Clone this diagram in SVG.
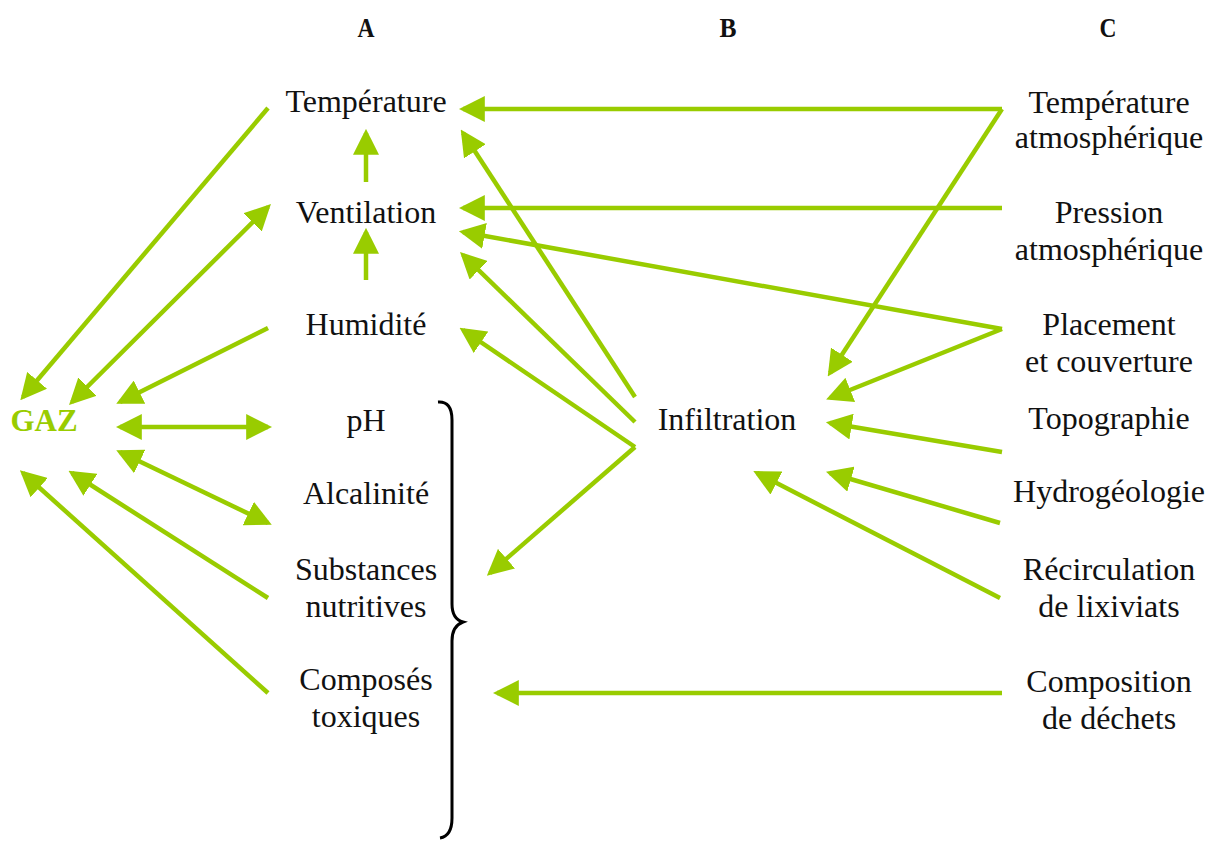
<svg xmlns="http://www.w3.org/2000/svg" width="1215" height="841" viewBox="0 0 1215 841">
<style>
.t{font-family:"Liberation Serif",serif;font-size:32px;fill:#111;text-anchor:middle}
.h{font-family:"Liberation Serif",serif;font-size:28px;font-weight:bold;fill:#111;text-anchor:middle}
.gaz{font-family:"Liberation Serif",serif;font-size:31px;font-weight:bold;fill:#99CC00;text-anchor:middle}
.c line{stroke:#99CC00;stroke-width:4.5;fill:none}
.a{marker-end:url(#ah)}
.d{marker-start:url(#ah);marker-end:url(#ah)}
</style>
<defs>
<marker id="ah" markerUnits="userSpaceOnUse" markerWidth="26" markerHeight="26" refX="21" refY="12.5" orient="auto-start-reverse" viewBox="0 0 25 25">
<path d="M0,0 L25,12.5 L0,25 z" fill="#99CC00"/>
</marker>
</defs>
<rect width="1215" height="841" fill="#fff"/>
<g id="headers">
<text class="h" x="366" y="37" textLength="17" lengthAdjust="spacingAndGlyphs">A</text>
<text class="h" x="728" y="37" textLength="17" lengthAdjust="spacingAndGlyphs">B</text>
<text class="h" x="1108" y="37" textLength="17" lengthAdjust="spacingAndGlyphs">C</text>
</g>
<g id="gaz"><text class="gaz" x="44" y="431">GAZ</text></g>
<g id="temperature"><text class="t" x="366" y="112">Température</text></g>
<g id="ventilation"><text class="t" x="366" y="223">Ventilation</text></g>
<g id="humidite"><text class="t" x="366" y="335">Humidité</text></g>
<g id="ph"><text class="t" x="366" y="431">pH</text></g>
<g id="alcalinite"><text class="t" x="366" y="504">Alcalinité</text></g>
<g id="substances"><text class="t" x="366" y="580">Substances</text><text class="t" x="366" y="617">nutritives</text></g>
<g id="composes"><text class="t" x="366" y="690">Composés</text><text class="t" x="366" y="727">toxiques</text></g>
<g id="infiltration"><text class="t" x="727" y="430">Infiltration</text></g>
<g id="temp-atm"><text class="t" x="1109" y="113">Température</text><text class="t" x="1109" y="148">atmosphérique</text></g>
<g id="pression"><text class="t" x="1109" y="223">Pression</text><text class="t" x="1109" y="260">atmosphérique</text></g>
<g id="placement"><text class="t" x="1109" y="335">Placement</text><text class="t" x="1109" y="372">et couverture</text></g>
<g id="topographie"><text class="t" x="1109" y="429">Topographie</text></g>
<g id="hydrogeologie"><text class="t" x="1109" y="502">Hydrogéologie</text></g>
<g id="recirculation"><text class="t" x="1109" y="580">Récirculation</text><text class="t" x="1109" y="617">de lixiviats</text></g>
<g id="composition"><text class="t" x="1109" y="692">Composition</text><text class="t" x="1109" y="729">de déchets</text></g>
<g id="brace"><path d="M438,402 Q452,401 452,420 L452,604 Q452,619 463,622 Q452,626 452,641 L452,818 Q452,836 440,838" fill="none" stroke="#000" stroke-width="3"/></g>
<g id="connectors" class="c">
<line class="a" x1="268" y1="108" x2="23" y2="397"/>
<line class="d" x1="72" y1="402" x2="268" y2="207"/>
<line class="a" x1="268" y1="328" x2="120" y2="402"/>
<line class="d" x1="120" y1="427" x2="268" y2="427"/>
<line class="d" x1="120" y1="452" x2="268" y2="523"/>
<line class="a" x1="268" y1="598" x2="72" y2="473"/>
<line class="a" x1="268" y1="693" x2="23" y2="473"/>
<line class="a" x1="366" y1="182" x2="366" y2="133"/>
<line class="a" x1="366" y1="280" x2="366" y2="232"/>
<line class="a" x1="635" y1="397" x2="463" y2="133"/>
<line class="a" x1="635" y1="422" x2="463" y2="255"/>
<line class="a" x1="635" y1="447" x2="463" y2="330"/>
<line class="a" x1="635" y1="447" x2="490" y2="573"/>
<line class="a" x1="1002" y1="109" x2="463" y2="109"/>
<line class="a" x1="1002" y1="109" x2="830" y2="373"/>
<line class="a" x1="1002" y1="208" x2="463" y2="208"/>
<line class="a" x1="1002" y1="329" x2="463" y2="232"/>
<line class="a" x1="1002" y1="329" x2="830" y2="398"/>
<line class="a" x1="1002" y1="452" x2="830" y2="423"/>
<line class="a" x1="1000" y1="523" x2="830" y2="473"/>
<line class="a" x1="1000" y1="598" x2="757" y2="473"/>
<line class="a" x1="1002" y1="693" x2="497" y2="693"/>
</g>
</svg>
